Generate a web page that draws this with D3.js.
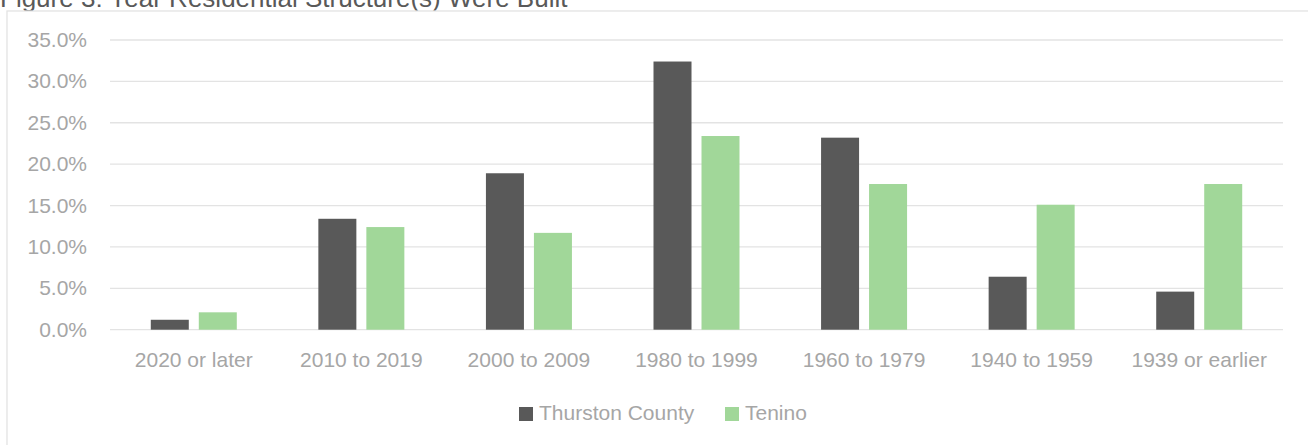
<!DOCTYPE html>
<html>
<head>
<meta charset="utf-8">
<script src="https://cdn.jsdelivr.net/npm/d3@7"></script>
<style>
  body { margin: 0; background: #fff; }
  svg { display: block; font-family: "Liberation Sans", Arial, sans-serif; }
</style>
</head>
<body>
<svg id="chart"></svg>
<script>
const width = 1308;
const height = 445;

// Data
const categories = ["2020 or later", "2010 to 2019", "2000 to 2009", "1980 to 1999", "1960 to 1979", "1940 to 1959", "1939 or earlier"];
const seriesNames = ["Thurston County", "Tenino"];
const thurston = [1.2, 13.4, 18.9, 32.4, 23.2, 6.4, 4.6];
const tenino = [2.1, 12.4, 11.7, 23.4, 17.6, 15.1, 17.6];
const yTicks = [0, 5, 10, 15, 20, 25, 30, 35];
const colors = ["#595959", "#a1d799"];

const svg = d3.select("#chart")
    .attr("width", width)
    .attr("height", height);

// Caption, cut off at the top like the original
svg.append("text")
    .attr("x", 0)
    .attr("y", 7)
    .style("font-size", "26px")
    .attr("fill", "#595959")
    .text("Figure 3: Year Residential Structure(s) Were Built");

// Chart frame
svg.append("rect")
    .attr("x", 7)
    .attr("y", 11)
    .attr("width", 1330)
    .attr("height", 460)
    .attr("fill", "#fff")
    .attr("stroke", "#e3e3e3")
    .attr("stroke-width", 1.3);

const margin = { left: 110, right: 1283, top: 40, bottom: 329.7 };

const x = d3.scaleBand()
    .domain(categories)
    .range([margin.left, margin.right]);

const inner = d3.scaleBand()
    .domain(seriesNames)
    .range([0, 86])
    .paddingInner(10 / 48);

const innerOffset = (x.bandwidth() - 86) / 2;

const y = d3.scaleLinear()
    .domain([0, 35])
    .range([margin.bottom, margin.top]);

// Gridlines
svg.append("g")
    .selectAll("line")
    .data(yTicks)
    .join("line")
    .attr("x1", margin.left)
    .attr("x2", margin.right)
    .attr("y1", d => y(d))
    .attr("y2", d => y(d))
    .attr("stroke", "#e3e3e3")
    .attr("stroke-width", 1.3);

// Y labels
svg.append("g")
    .selectAll("text")
    .data(yTicks)
    .join("text")
    .attr("x", 87)
    .attr("y", d => y(d) + 7)
    .attr("text-anchor", "end")
    .style("font-size", "21px")
    .attr("fill", "#a6a6a6")
    .text(d => d.toFixed(1) + "%");

// Bars
const rows = categories.map((c, i) => ({ cat: c, values: [thurston[i], tenino[i]] }));

const groups = svg.append("g")
    .selectAll("g")
    .data(rows)
    .join("g")
    .attr("transform", d => `translate(${x(d.cat) + innerOffset},0)`);

groups.selectAll("rect")
    .data(d => d.values.map((v, j) => ({ name: seriesNames[j], value: v, j })))
    .join("rect")
    .attr("x", d => inner(d.name))
    .attr("width", inner.bandwidth())
    .attr("y", d => y(d.value))
    .attr("height", d => y(0) - y(d.value))
    .attr("fill", d => colors[d.j]);

// X labels
svg.append("g")
    .selectAll("text")
    .data(categories)
    .join("text")
    .attr("x", d => x(d) + x.bandwidth() / 2)
    .attr("y", 367)
    .attr("text-anchor", "middle")
    .style("font-size", "21px")
    .attr("fill", "#a6a6a6")
    .text(d => d);

// Legend
const legend = svg.append("g").attr("transform", "translate(519,0)");
const legendX = [0, 206];
seriesNames.forEach((name, i) => {
    legend.append("rect")
        .attr("x", legendX[i])
        .attr("y", 407)
        .attr("width", 14)
        .attr("height", 14)
        .attr("fill", colors[i]);
    legend.append("text")
        .attr("x", legendX[i] + 20)
        .attr("y", 420)
        .style("font-size", "21px")
        .attr("fill", "#a6a6a6")
        .text(name);
});
</script>
</body>
</html>
